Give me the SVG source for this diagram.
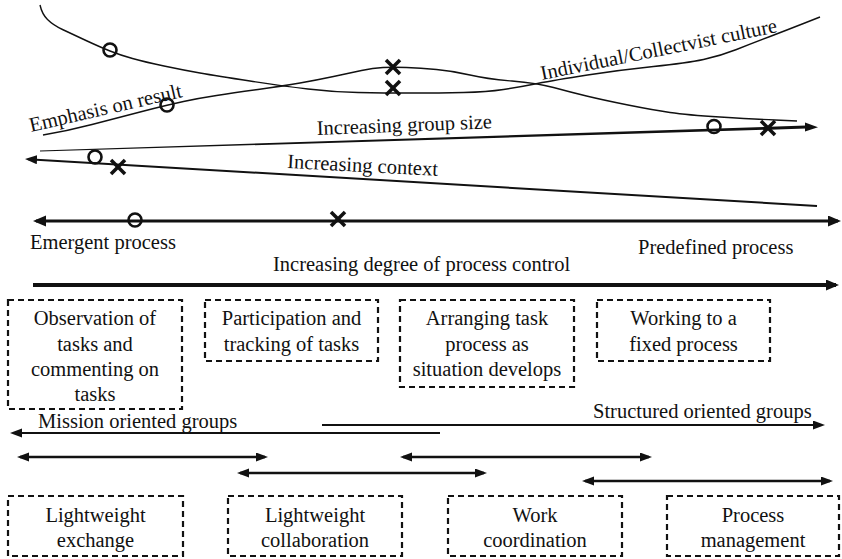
<svg xmlns="http://www.w3.org/2000/svg" width="842" height="559" viewBox="0 0 842 559">
  <style>
    text { font-family: "Liberation Serif", "Times New Roman", serif; font-size: 20.5px; fill: #111; }
    .mid { text-anchor: middle; }
    .box { fill: none; stroke: #111; stroke-width: 2.2; stroke-dasharray: 6 4; }
    .curve { fill: none; stroke: #111; stroke-width: 1.4; }
    .thin { fill: none; stroke: #111; stroke-width: 2; }
    .med { fill: none; stroke: #111; stroke-width: 2.6; }
    .thick { fill: none; stroke: #111; stroke-width: 3.2; }
    .heavy { fill: none; stroke: #111; stroke-width: 4.2; }
    .ring { fill: none; stroke: #111; stroke-width: 2.6; }
    .cross { stroke: #111; stroke-width: 3.6; stroke-linecap: butt; }
  </style>
  <defs>
    <marker id="ah" markerUnits="userSpaceOnUse" markerWidth="13" markerHeight="10" refX="9" refY="4.5" orient="auto-start-reverse">
      <path d="M0,0 L12,4.5 L0,9 z" fill="#111"/>
    </marker>
    <marker id="ahb" markerUnits="userSpaceOnUse" markerWidth="14" markerHeight="12" refX="10" refY="5.5" orient="auto-start-reverse">
      <path d="M0,0 L13,5.5 L0,11 z" fill="#111"/>
    </marker>
    <g id="x">
      <line class="cross" x1="-7" y1="-7" x2="7" y2="7"/>
      <line class="cross" x1="-7" y1="7" x2="7" y2="-7"/>
    </g>
  </defs>

  <rect width="842" height="559" fill="#fff"/>

  <g id="connectors">
    <!-- individual / collectivist culture curve -->
    <path class="curve" d="M40,5 Q42,14 47.5,19.5 Q53,25 62.5,29.5 Q72,34 86,40.5 Q100,47 110,51 Q120,55 132.5,58.5 Q145,62 164,66 Q183,70 200,73 Q217,76 250,81 Q283,86 308,89 Q333,92 358,92.5 Q383,93 411.5,93 Q440,93 463.5,92.5 Q487,92 503.5,89.5 Q520,87 537.5,83.5 Q555,80 587.5,75 Q620,70 653.5,66.5 Q687,63 703.5,59.5 Q720,56 736.5,49.5 Q753,43 770,36.5 Q787,30 803.5,23.5 L820,17"/>
    <!-- emphasis on result curve -->
    <path class="curve" d="M43,135 Q67,131 92,124.5 Q117,118 142,111.5 Q167,105 183.5,101.5 Q200,98 216.5,95.5 Q233,93 258,89.5 Q283,86 300,83 Q317,80 333.5,76.5 Q350,73 361.5,70.5 Q373,68 383,67.5 Q393,67 406.5,67.5 Q420,68 436.5,69.5 Q453,71 470,75 Q487,79 512,81 Q537,83 553.5,87.5 Q570,92 586.5,96 Q603,100 628,105 Q653,110 670,112.5 Q687,115 720,117 Q753,119 775,120 L797,121"/>

    <!-- increasing group size (tapered) -->
    <polygon points="40,150.6 40,151.6 806,128.6 806,125.6" fill="#111"/>
    <path d="M805,122.5 L818,127.2 L805,131.6 z" fill="#111"/>

    <!-- increasing context -->
    <line class="thin" x1="817" y1="206" x2="28" y2="159.2" marker-end="url(#ah)"/>

    <!-- degree of process control -->
    <line class="thick" x1="36" y1="221" x2="838" y2="221" marker-start="url(#ahb)" marker-end="url(#ahb)"/>

    <!-- long bottom arrow -->
    <line class="heavy" x1="33" y1="285" x2="836" y2="285" marker-end="url(#ahb)"/>

    <!-- mission / structured oriented groups -->
    <line class="thin" x1="440" y1="433" x2="13" y2="433" marker-end="url(#ah)"/>
    <line class="thin" x1="322" y1="425" x2="822" y2="425" marker-end="url(#ah)"/>

    <!-- ranges of the four group types -->
    <line class="med" x1="20" y1="457" x2="265" y2="457" marker-start="url(#ah)" marker-end="url(#ah)"/>
    <line class="med" x1="240" y1="473" x2="484" y2="473" marker-start="url(#ah)" marker-end="url(#ah)"/>
    <line class="med" x1="403" y1="457" x2="649" y2="457" marker-start="url(#ah)" marker-end="url(#ah)"/>
    <line class="med" x1="585" y1="481" x2="830" y2="481" marker-start="url(#ah)" marker-end="url(#ah)"/>
  </g>

  <g id="scale-markers">
    <circle class="ring" cx="110" cy="50" r="6.5"/>
    <circle class="ring" cx="167" cy="105" r="6.5"/>
    <use href="#x" x="393" y="67"/>
    <use href="#x" x="393" y="88"/>
    <circle class="ring" cx="714" cy="126.5" r="6.5"/>
    <use href="#x" x="768" y="128"/>
    <circle class="ring" cx="95" cy="157" r="6.5"/>
    <use href="#x" x="118" y="167"/>
    <circle class="ring" cx="135" cy="220" r="6.5"/>
    <use href="#x" x="338" y="219"/>
  </g>

  <g id="axis-labels">
    <text x="31" y="132" transform="rotate(-13 31 132)">Emphasis on result</text>
    <text x="542" y="80" transform="rotate(-11.5 542 80)">Individual/Collectvist culture</text>
    <text x="317" y="135" transform="rotate(-2.2 317 135)">Increasing group size</text>
    <text x="287" y="168" transform="rotate(3 287 168)">Increasing context</text>
    <text x="30" y="249">Emergent process</text>
    <text x="273" y="271">Increasing degree of process control</text>
    <text x="638" y="254">Predefined process</text>
    <text x="38" y="428">Mission oriented groups</text>
    <text x="593" y="418">Structured oriented groups</text>
  </g>

  <g id="observation">
    <rect class="box" x="8" y="300" width="174" height="109"/>
    <text class="mid" x="95" y="325">Observation of</text>
    <text class="mid" x="95" y="351">tasks and</text>
    <text class="mid" x="95" y="376">commenting on</text>
    <text class="mid" x="95" y="401">tasks</text>
  </g>
  <g id="participation">
    <rect class="box" x="205" y="300" width="173" height="61"/>
    <text class="mid" x="291.5" y="325">Participation and</text>
    <text class="mid" x="291.5" y="351">tracking of tasks</text>
  </g>
  <g id="arranging">
    <rect class="box" x="400" y="300" width="174" height="87"/>
    <text class="mid" x="487" y="325">Arranging task</text>
    <text class="mid" x="487" y="351">process as</text>
    <text class="mid" x="487" y="376">situation develops</text>
  </g>
  <g id="fixed-process">
    <rect class="box" x="597" y="300" width="173" height="61"/>
    <text class="mid" x="683.5" y="325">Working to a</text>
    <text class="mid" x="683.5" y="351">fixed process</text>
  </g>

  <g id="lightweight-exchange">
    <rect class="box" x="8" y="496" width="175" height="60"/>
    <text class="mid" x="95.5" y="522">Lightweight</text>
    <text class="mid" x="95.5" y="547">exchange</text>
  </g>
  <g id="lightweight-collaboration">
    <rect class="box" x="228" y="496" width="174" height="60"/>
    <text class="mid" x="315" y="522">Lightweight</text>
    <text class="mid" x="315" y="547">collaboration</text>
  </g>
  <g id="work-coordination">
    <rect class="box" x="448" y="496" width="174" height="60"/>
    <text class="mid" x="535" y="522">Work</text>
    <text class="mid" x="535" y="547">coordination</text>
  </g>
  <g id="process-management">
    <rect class="box" x="667" y="496" width="172" height="60"/>
    <text class="mid" x="753" y="522">Process</text>
    <text class="mid" x="753" y="547">management</text>
  </g>
</svg>
